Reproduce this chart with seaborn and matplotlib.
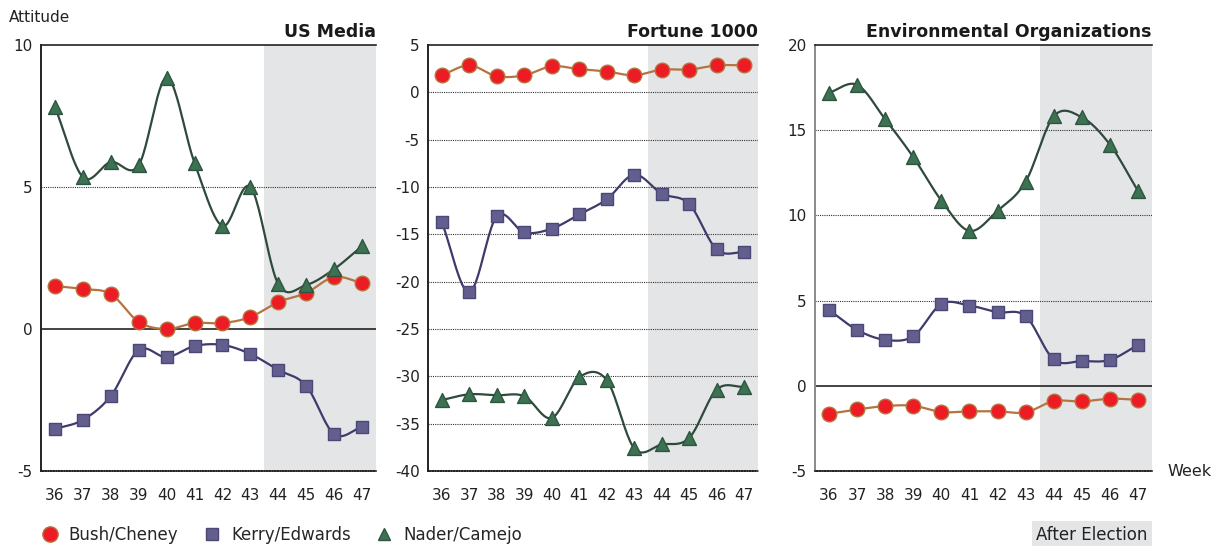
import matplotlib
matplotlib.use("Agg")
import matplotlib.pyplot as plt
import numpy as np
import pandas as pd
import seaborn as sns
from matplotlib.lines import Line2D
from matplotlib.patches import Rectangle

weeks = [36, 37, 38, 39, 40, 41, 42, 43, 44, 45, 46, 47]
election_week = 44

# US Media
media_bush = [1.51, 1.41, 1.23, 0.25, 0.0, 0.21, 0.21, 0.42, 0.95, 1.27, 1.83, 1.62]
media_kerry = [-3.52, -3.2, -2.36, -0.74, -0.99, -0.6, -0.56, -0.88, -1.44, -2.0, -3.7, -3.45]
media_nader = [7.82, 5.35, 5.88, 5.77, 8.84, 5.85, 3.63, 5.0, 1.58, 1.55, 2.11, 2.92]

# Fortune 1000
fortune_bush = [1.8, 2.85, 1.7, 1.8, 2.75, 2.45, 2.2, 1.8, 2.4, 2.4, 2.85, 2.85]
fortune_kerry = [-13.7, -21.1, -13.1, -14.8, -14.4, -12.9, -11.3, -8.7, -10.7, -11.8, -16.6, -16.9]
fortune_nader = [-32.5, -31.9, -32.0, -32.1, -34.4, -30.1, -30.4, -37.6, -37.2, -36.5, -31.4, -31.1]

# Environmental Organizations
env_bush = [-1.64, -1.39, -1.19, -1.17, -1.54, -1.5, -1.5, -1.56, -0.9, -0.92, -0.76, -0.82]
env_kerry = [4.45, 3.28, 2.7, 2.91, 4.8, 4.71, 4.32, 4.09, 1.55, 1.45, 1.52, 2.4]
env_nader = [17.2, 17.66, 15.64, 13.42, 10.87, 9.09, 10.27, 11.98, 15.81, 15.76, 14.16, 11.44]

candidates = ["Bush/Cheney", "Kerry/Edwards", "Nader/Camejo"]
panel_titles = ["US Media", "Fortune 1000", "Environmental Organizations"]

styles = {
    "Bush/Cheney": dict(marker="o", face="#ED1C24", edge="#B5733F", line="#B5733F", size=110),
    "Kerry/Edwards": dict(marker="s", face="#625E8E", edge="#4B4777", line="#3E3A6B", size=85),
    "Nader/Camejo": dict(marker="^", face="#3C7152", edge="#2E5540", line="#2F4A3C", size=100),
}


def smooth(x, y, n=24):
    # Catmull-Rom spline through the points (like Excel's smoothed line)
    x = np.asarray(x, float)
    y = np.asarray(y, float)
    px = np.concatenate([[2 * x[0] - x[1]], x, [2 * x[-1] - x[-2]]])
    py = np.concatenate([[2 * y[0] - y[1]], y, [2 * y[-1] - y[-2]]])
    xs, ys = [], []
    t = np.linspace(0, 1, n, endpoint=False)
    for i in range(1, len(px) - 2):
        for p, out in ((px, xs), (py, ys)):
            p0, p1, p2, p3 = p[i - 1], p[i], p[i + 1], p[i + 2]
            out.append(0.5 * (2 * p1 + (-p0 + p2) * t
                              + (2 * p0 - 5 * p1 + 4 * p2 - p3) * t ** 2
                              + (-p0 + 3 * p1 - 3 * p2 + p3) * t ** 3))
    xs = np.concatenate(xs + [[x[-1]]])
    ys = np.concatenate(ys + [[y[-1]]])
    return xs, ys


panels = [
    dict(data=[media_bush, media_kerry, media_nader], ylim=(-5, 10), step=5, solid_zero=True,
         left=41, right=376, spine="#222222"),
    dict(data=[fortune_bush, fortune_kerry, fortune_nader], ylim=(-40, 5), step=5, solid_zero=False,
         left=428, right=758, spine="#222222"),
    dict(data=[env_bush, env_kerry, env_nader], ylim=(-5, 20), step=5, solid_zero=True,
         left=815, right=1152, spine="#8a8a8a"),
]

sns.set_style("white")
plt.rcParams["font.family"] = ["DejaVu Sans"]

W, H = 1215, 546
fig = plt.figure(figsize=(W / 100, H / 100), dpi=100)

top_px, bot_px = 45, 471
for k, p in enumerate(panels):
    ax = fig.add_axes([p["left"] / W, 1 - bot_px / H, (p["right"] - p["left"]) / W, (bot_px - top_px) / H])
    lo, hi = p["ylim"]
    ax.set_xlim(weeks[0] - 0.5, weeks[-1] + 0.5)
    ax.set_ylim(lo, hi)
    ax.axvspan(election_week - 0.5, weeks[-1] + 0.5, color="#E4E5E7", zorder=0, lw=0)

    for yv in np.arange(lo + p["step"], hi, p["step"]):
        if yv == 0 and p["solid_zero"]:
            ax.axhline(0, color="#111111", lw=1.1, zorder=1)
        else:
            ax.axhline(yv, color="#333333", lw=0.8, ls=(0, (1, 1)), zorder=1)

    for name, vals in zip(candidates, p["data"]):
        s = styles[name]
        sx, sy = smooth(weeks, vals)
        sns.lineplot(x=sx, y=sy, ax=ax, color=s["line"], lw=1.6, sort=False,
                     estimator=None, zorder=3)
        sns.scatterplot(x=weeks, y=vals, ax=ax, marker=s["marker"], s=s["size"],
                        color=s["face"], edgecolor=s["edge"], linewidth=1.0, zorder=4)

    ax.set_yticks(np.arange(lo, hi + 0.1, p["step"]))
    ax.set_yticklabels([f"{int(v)}" for v in np.arange(lo, hi + 0.1, p["step"])])
    ax.set_xticks(weeks)
    ax.set_xticklabels([str(w) for w in weeks])
    ax.set_xticks(np.arange(weeks[0] - 0.5, weeks[-1] + 1.0, 1.0), minor=True)
    ax.tick_params(axis="x", which="major", length=0, pad=12, labelsize=11, colors="#222222")
    ax.tick_params(axis="x", which="minor", length=5, width=1, color="#222222", direction="out")
    ax.tick_params(axis="y", length=4, width=1, color=p["spine"], direction="out",
                   labelsize=11, labelcolor="#222222", pad=2)

    ax.spines["right"].set_visible(False)
    ax.spines["top"].set_color("#222222")
    ax.spines["top"].set_linewidth(1.2)
    ax.spines["left"].set_color(p["spine"])
    ax.spines["left"].set_linewidth(1.4)
    ax.spines["bottom"].set_color("#222222")
    ax.spines["bottom"].set_linestyle((0, (1, 0.6)))
    ax.spines["bottom"].set_linewidth(1.2)
    ax.set_xlabel("")
    ax.set_ylabel("")
    ax.set_title(panel_titles[k], loc="right", fontsize=12.5, fontweight="bold",
                 color="#1a1a1a", pad=6)

fig.text(9 / W, 1 - 17 / H, "Attitude", fontsize=11, color="#222222", va="center", ha="left")
fig.text(1167 / W, 1 - 472 / H, "Week", fontsize=11.5, color="#222222", va="center", ha="left")

handles = [
    Line2D([], [], ls="none", marker=styles[n]["marker"], markersize=11 if n == "Bush/Cheney" else 9,
           markerfacecolor=styles[n]["face"], markeredgecolor=styles[n]["edge"], label=n)
    for n in candidates
]
fig.legend(handles=handles, loc="center left", bbox_to_anchor=(38 / W, 1 - 535 / H), ncol=3,
           frameon=False, fontsize=12, handletextpad=0.45, columnspacing=1.3, handlelength=1.4,
           borderaxespad=0, borderpad=0)

fig.patches.append(Rectangle((1032 / W, 1 - 546 / H), 120 / W, 25 / H, transform=fig.transFigure,
                             facecolor="#E4E5E7", edgecolor="none", zorder=0))
fig.text(1092 / W, 1 - 535 / H, "After Election", fontsize=12, color="#222222",
         ha="center", va="center")

fig.savefig("out.png", dpi=100)
